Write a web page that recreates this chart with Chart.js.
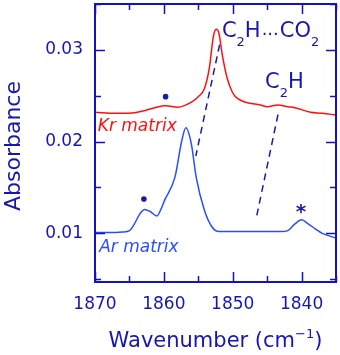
<!DOCTYPE html>
<html>
<head>
<meta charset="utf-8">
<script src="https://cdn.jsdelivr.net/npm/chart.js@4"></script>
<style>
  html, body { margin: 0; padding: 0; background: #fff; }
</style>
</head>
<body>
<canvas id="spectrum" width="340" height="355"></canvas>
<script>
// Kr matrix spectrum (red)
const krWave = [1870, 1867, 1865.1, 1862.7, 1861.3, 1859.75, 1858, 1856, 1855, 1854.1, 1853.4, 1852.8, 1852.4, 1852, 1851.5, 1850.8, 1850.1, 1849.6, 1848.7, 1847.7, 1846, 1845, 1843.4, 1842, 1841, 1838.7, 1837, 1835];
const krAbs = [0.0232, 0.0231, 0.0231, 0.0234, 0.0237, 0.0239, 0.02375, 0.0243, 0.0249, 0.0258, 0.0280, 0.0315, 0.03224, 0.0318, 0.0294, 0.0269, 0.02546, 0.0249, 0.02445, 0.0242, 0.0240, 0.0238, 0.0240, 0.0238, 0.0237, 0.0232, 0.0231, 0.0229];

// Ar matrix spectrum (blue)
const arWave = [1870, 1867, 1866, 1865, 1864.3, 1863.5, 1862.8, 1862, 1861, 1860.5, 1859.9, 1858.4, 1857.4, 1856.8, 1856, 1855.3, 1854.1, 1853, 1852, 1850, 1845, 1843, 1842, 1841, 1840, 1839, 1838, 1837, 1835];
const arAbs = [0.0101, 0.0101, 0.01014, 0.0103, 0.0110, 0.0121, 0.0126, 0.01238, 0.0119, 0.0125, 0.0136, 0.0161, 0.0201, 0.0215, 0.0197, 0.0161, 0.0125, 0.0107, 0.0102, 0.0102, 0.0102, 0.0102, 0.0103, 0.0110, 0.01148, 0.0110, 0.0105, 0.0100, 0.0095];

// dashed guide lines between the bands
const guide1Wave = [1851.9, 1855.36];
const guide1Abs = [0.03057, 0.01843];
const guide2Wave = [1843.43, 1846.6];
const guide2Abs = [0.02294, 0.01159];

// dots above the small bands
const dotWave = [1859.75, 1862.9];
const dotAbs = [0.0249, 0.01375];

const xTicks = [1870, 1860, 1850, 1840];
const yTicks = [0.01, 0.02, 0.03];

const axisColor = "#1212c4";
const textColor = "#1616b0";
const markColor = "#1a1aa6";
const blueLine = "#2a4dff";
const redLine = "#ff1010";
const font = "'DejaVu Sans', sans-serif";

const pts = (xs, ys) => xs.map((x, i) => ({ x: x, y: ys[i] }));

// frame, inward ticks, axis titles and annotations
const decorations = {
  id: "decorations",
  afterDraw(chart) {
    const ctx = chart.ctx;
    const a = chart.chartArea;
    const xs = chart.scales.x;
    const ys = chart.scales.y;
    ctx.save();

    // inward ticks on all four sides
    ctx.strokeStyle = axisColor;
    ctx.lineWidth = 1.5;
    for (let v = 1870; v >= 1835; v -= 5) {
      const px = Math.round(xs.getPixelForValue(v)) + 0.5;
      const len = v % 10 === 0 ? 10 : 6;
      ctx.beginPath();
      ctx.moveTo(px, a.bottom); ctx.lineTo(px, a.bottom - len);
      ctx.moveTo(px, a.top); ctx.lineTo(px, a.top + len);
      ctx.stroke();
    }
    for (let k = 1; k <= 7; k++) {
      const v = k * 0.005;
      if (v < ys.min || v > ys.max) continue;
      const py = Math.round(ys.getPixelForValue(v)) + 0.5;
      const len = k % 2 === 0 ? 10 : 6;
      ctx.beginPath();
      ctx.moveTo(a.left, py); ctx.lineTo(a.left + len, py);
      ctx.moveTo(a.right, py); ctx.lineTo(a.right - len, py);
      ctx.stroke();
    }

    // frame
    ctx.lineWidth = 2;
    ctx.strokeRect(a.left, a.top, a.right - a.left, a.bottom - a.top);

    ctx.fillStyle = textColor;
    ctx.textBaseline = "alphabetic";

    // y title
    ctx.save();
    ctx.translate(20, (a.top + a.bottom) / 2 + 3);
    ctx.rotate(-Math.PI / 2);
    ctx.textAlign = "center";
    ctx.font = "22px " + font;
    ctx.fillText("Absorbance", 0, 0);
    ctx.restore();

    // x title with superscript
    ctx.textAlign = "left";
    const big = "21px " + font, small = "13px " + font;
    ctx.font = big;
    const w1 = ctx.measureText("Wavenumber (cm").width;
    const w3 = ctx.measureText(")").width;
    ctx.font = small;
    const w2 = ctx.measureText("\u22121").width;
    let tx = (a.left + a.right) / 2 - (w1 + w2 + w3) / 2;
    const tb = 347;
    ctx.font = big; ctx.fillText("Wavenumber (cm", tx, tb); tx += w1;
    ctx.font = small; ctx.fillText("\u22121", tx, tb - 9); tx += w2;
    ctx.font = big; ctx.fillText(")", tx, tb);

    // band labels
    const label = (parts, x, y) => {
      for (const p of parts) {
        ctx.font = p.f;
        ctx.fillText(p.t, x, y + (p.dy || 0));
        x += ctx.measureText(p.t).width + (p.gap || 0);
      }
    };
    const lf = "21px " + font, sf = "13px " + font, df = "18px " + font;
    label([
      { t: "C", f: lf }, { t: "2", f: sf, dy: 9 }, { t: "H", f: lf, gap: 1 },
      { t: "...", f: df, dy: -2, gap: 1 }, { t: "CO", f: lf }, { t: "2", f: sf, dy: 9 }
    ], xs.getPixelForValue(1851.57), ys.getPixelForValue(0.0314));
    label([
      { t: "C", f: lf }, { t: "2", f: sf, dy: 9 }, { t: "H", f: lf }
    ], xs.getPixelForValue(1845.3), ys.getPixelForValue(0.0258));

    // matrix labels
    ctx.font = "italic 17px " + font;
    ctx.fillStyle = redLine;
    ctx.fillText("Kr matrix", xs.getPixelForValue(1869.6), ys.getPixelForValue(0.0212));
    ctx.fillStyle = blueLine;
    ctx.fillText("Ar matrix", xs.getPixelForValue(1869.4), ys.getPixelForValue(0.0080));

    // asterisk over the 1840 band
    ctx.fillStyle = markColor;
    ctx.font = "bold 20px " + font;
    ctx.textAlign = "center";
    ctx.fillText("*", xs.getPixelForValue(1840.1), ys.getPixelForValue(0.0115) - 2);

    ctx.restore();
  }
};

const ctx = document.getElementById("spectrum").getContext("2d");
new Chart(ctx, {
  type: "line",
  data: {
    datasets: [
      {
        label: "Kr matrix",
        data: pts(krWave, krAbs),
        borderColor: redLine,
        borderWidth: 1.5,
        pointRadius: 0,
        cubicInterpolationMode: "monotone"
      },
      {
        label: "Ar matrix",
        data: pts(arWave, arAbs),
        borderColor: blueLine,
        borderWidth: 1.5,
        pointRadius: 0,
        cubicInterpolationMode: "monotone"
      },
      {
        label: "guide 1",
        data: pts(guide1Wave, guide1Abs),
        borderColor: markColor,
        borderWidth: 1.5,
        borderDash: [7, 5],
        pointRadius: 0
      },
      {
        label: "guide 2",
        data: pts(guide2Wave, guide2Abs),
        borderColor: markColor,
        borderWidth: 1.5,
        borderDash: [7, 5],
        pointRadius: 0
      },
      {
        label: "dots",
        data: pts(dotWave, dotAbs),
        showLine: false,
        pointRadius: 2.8,
        pointBackgroundColor: markColor,
        pointBorderWidth: 0
      }
    ]
  },
  options: {
    responsive: false,
    animation: false,
    layout: { padding: { top: 2, right: 3, left: 0, bottom: 0 } },
    plugins: { legend: { display: false }, tooltip: { enabled: false } },
    scales: {
      x: {
        type: "linear",
        reverse: true,
        min: 1835,
        max: 1870,
        afterBuildTicks: (s) => { s.ticks = xTicks.map((v) => ({ value: v })); },
        afterFit: (s) => { s.height = 73; s.paddingLeft = 0; s.paddingRight = 0; },
        grid: { display: false, drawTicks: false },
        border: { display: false },
        ticks: {
          color: textColor,
          font: { family: "DejaVu Sans", size: 17 },
          padding: 12,
          maxRotation: 0,
          callback: (v) => String(v)
        }
      },
      y: {
        type: "linear",
        min: 0.0047,
        max: 0.035,
        afterBuildTicks: (s) => { s.ticks = yTicks.map((v) => ({ value: v })); },
        afterFit: (s) => { s.width = 95; s.paddingTop = 0; s.paddingBottom = 0; },
        grid: { display: false, drawTicks: false },
        border: { display: false },
        ticks: {
          color: textColor,
          font: { family: "DejaVu Sans", size: 17 },
          padding: 12,
          callback: (v) => v.toFixed(2)
        }
      }
    }
  },
  plugins: [decorations]
});
</script>
</body>
</html>
